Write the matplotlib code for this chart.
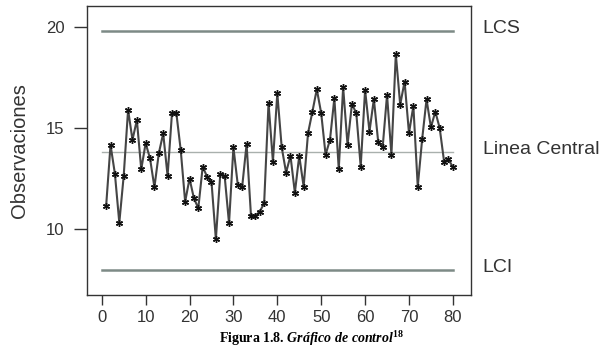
import matplotlib
matplotlib.use("Agg")
import matplotlib.pyplot as plt

muestra = list(range(1, 81))
observaciones = [
    11.14, 14.17, 12.73, 10.31, 12.63, 15.91, 14.42, 15.40, 12.96, 14.25,
    13.50, 12.07, 13.75, 14.74, 12.63, 15.74, 15.74, 13.90, 11.35, 12.50,
    11.52, 11.03, 13.09, 12.59, 12.35, 9.49, 12.71, 12.63, 10.28, 14.05,
    12.18, 12.10, 14.21, 10.66, 10.66, 10.86, 11.27, 16.24, 13.34, 16.73,
    14.05, 12.80, 13.63, 11.80, 13.63, 12.10, 14.75, 15.82, 16.93, 15.74,
    13.68, 14.42, 16.49, 12.97, 17.03, 14.17, 16.20, 15.74, 13.09, 16.90,
    14.83, 16.44, 14.29, 14.04, 16.65, 13.68, 18.67, 16.16, 17.31, 14.75,
    16.10, 12.10, 14.45, 16.43, 15.04, 15.82, 15.00, 13.34, 13.46, 13.06,
]

limites = {"LCS": 19.83, "Linea Central": 13.84, "LCI": 7.97}
x_ticks = [0, 10, 20, 30, 40, 50, 60, 70, 80]
y_ticks = [10, 15, 20]

plt.rcParams["font.family"] = ["Liberation Sans", "DejaVu Sans"]
plt.rcParams["mathtext.fontset"] = "custom"
plt.rcParams["mathtext.rm"] = "Liberation Serif:bold"
plt.rcParams["mathtext.it"] = "Liberation Serif:bold:italic"

fig = plt.figure(figsize=(6.06, 3.49), dpi=100)
ax = fig.add_axes([0.144, 0.155, 0.633, 0.828])

# control limits
ax.plot([0, 80], [limites["LCS"]] * 2, color="#7d8a86", lw=1.8)
ax.plot([0, 80], [limites["LCI"]] * 2, color="#7d8a86", lw=1.8)
ax.plot([0, 80], [limites["Linea Central"]] * 2, color="#a9b0ad", lw=1.0)

ax.plot(muestra, observaciones, color="#454545", lw=1.5,
        marker=(6, 2, 0), markersize=5, markeredgewidth=1.0,
        markeredgecolor="#111111")

ylo, yhi = 6.73, 21.06
ax.set_xlim(-3.3, 84.1)
ax.set_ylim(ylo, yhi)
ax.set_xticks(x_ticks)
ax.set_yticks(y_ticks)
ax.tick_params(direction="out", width=1, labelsize=12, colors="#333333")
ax.tick_params(axis="y", length=9.5, pad=7)
ax.tick_params(axis="x", length=7, pad=4)
for s in ax.spines.values():
    s.set_color("#333333")
    s.set_linewidth(1.0)

ax.set_ylabel("Observaciones", fontsize=14.5, color="#333333", labelpad=12)

for nombre, valor in limites.items():
    ax.text(1.031, (valor + 0.12 - ylo) / (yhi - ylo), nombre,
            transform=ax.transAxes, fontsize=14, color="#333333",
            va="center", ha="left", clip_on=False)

fig.text(0.515, 0.004, r"Figura 1.8. $\it{Gráfico\ de\ control}^{18}$",
         ha="center", va="bottom", fontsize=10, fontweight="bold",
         family="Liberation Serif")

fig.savefig("out.png", dpi=100)
